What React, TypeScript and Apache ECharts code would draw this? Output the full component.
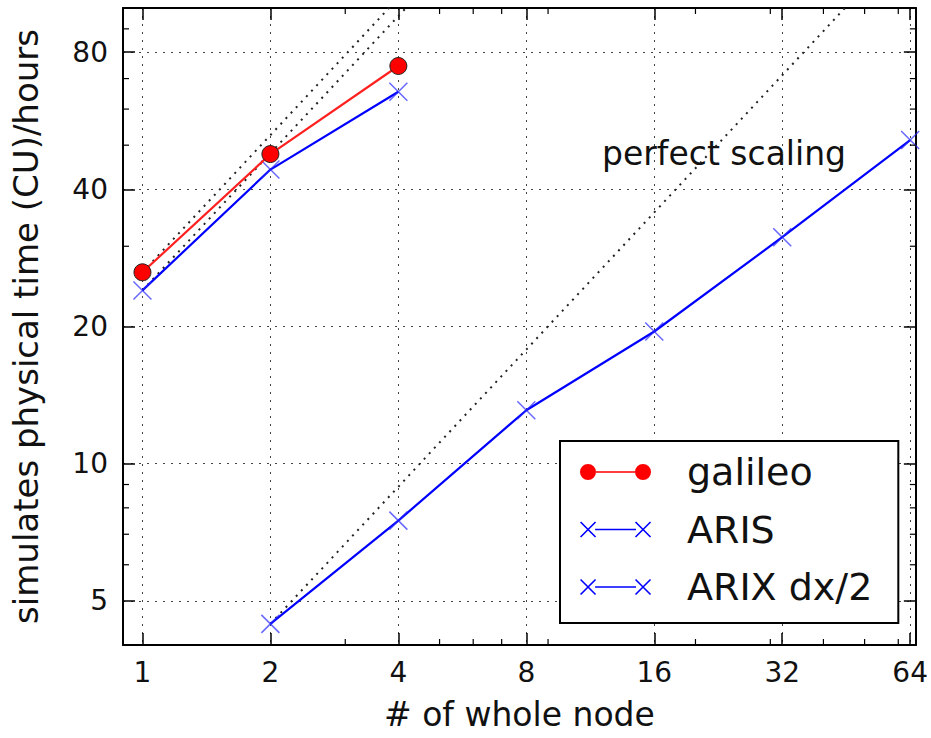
import React, { useEffect, useRef } from "react";
import * as echarts from "echarts";

// ---- data ----
const xTicks = [1, 2, 4, 8, 16, 32, 64];
const yTicks = [5, 10, 20, 40, 80];
const xMinorTicks = [3, 5, 6, 7, 9, 20, 30, 40, 50, 60];
const yMinorTicks = [6, 7, 8, 9, 30, 50, 60, 70, 90];

const galileoNodes = [1, 2, 4];
const galileoValues = [26.3, 47.8, 74.6];
const arisNodes = [1, 2, 4];
const arisValues = [24.0, 44.2, 65.5];
const arixNodes = [2, 4, 8, 16, 32, 64];
const arixValues = [4.45, 7.5, 13.1, 19.5, 31.4, 51.3];

const perfectGalileoNodes = [1, 2, 4];
const perfectGalileoValues = [26.3, 52.6, 105.2];
const perfectArisNodes = [1, 2, 4, 8];
const perfectArisValues = [24.0, 48.0, 96.0, 192.0];
const perfectArixNodes = [2, 4, 8, 16, 32, 64];
const perfectArixValues = [4.45, 8.9, 17.8, 35.6, 71.2, 142.4];

const seriesNames = ["galileo", "ARIS", "ARIX dx/2"];
const annotationText = "perfect scaling";
const xName = "# of whole node";
const yName = "simulates physical time (CU)/hours";

const FONT = "DejaVu Sans";

function pairs(xs: number[], ys: number[]) {
  return xs.map((x, i) => [x, ys[i]]);
}

function xPoly(cx: number, cy: number, h: number, w: number) {
  const o = w / Math.SQRT2;
  const p = (pts: number[][]) =>
    "M" + pts.map((q) => q[0].toFixed(2) + "," + q[1].toFixed(2)).join(" L") + " Z";
  const a = p([
    [cx - h + o, cy - h - o],
    [cx + h + o, cy + h - o],
    [cx + h - o, cy + h + o],
    [cx - h - o, cy - h + o],
  ]);
  const b = p([
    [cx - h - o, cy + h - o],
    [cx + h - o, cy - h - o],
    [cx + h + o, cy - h + o],
    [cx - h + o, cy + h + o],
  ]);
  return a + " " + b;
}

const ICON_W = 102;
const bboxFix = "M0,0 M" + ICON_W + ",18 ";
const circleIcon =
  "path://" +
  bboxFix +
  "M0,9 A8,8 0 1,1 16,9 A8,8 0 1,1 0,9 Z M55,9 A8,8 0 1,1 71,9 A8,8 0 1,1 55,9 Z M16,8.2 L55,8.2 L55,9.8 L16,9.8 Z";
const crossIcon =
  "path://" +
  bboxFix +
  xPoly(8, 9, 7.5, 0.8) +
  " " +
  xPoly(63, 9, 7.5, 0.8) +
  " M15,8.2 L56,8.2 L56,9.8 L15,9.8 Z";

const crossSymbol = "path://M0,0 L10,10 M10,0 L0,10";

export default function App() {
  const ref = useRef<HTMLDivElement>(null);
  useEffect(() => {
    if (!ref.current) return;
    const chart = echarts.init(ref.current, undefined, { renderer: "svg" });

    const gridDash = { type: [2, 6] as any, color: "#444", width: 1 };
    const perfectStyle = { type: [2, 5.5] as any, color: "#222", width: 2 };

    const baseX = {
      type: "log" as const,
      logBase: 2,
      min: 0.9,
      max: 66,
      axisLine: { onZero: false, lineStyle: { color: "#000", width: 2 } },
      axisTick: {
        inside: true,
        length: 12,
        customValues: xTicks,
        lineStyle: { color: "#000", width: 1.5 },
      },
    };
    const baseY = {
      type: "log" as const,
      logBase: 2,
      min: 4,
      max: 100,
      axisLine: { onZero: false, lineStyle: { color: "#000", width: 2 } },
      axisTick: {
        inside: true,
        length: 12,
        customValues: yTicks,
        lineStyle: { color: "#000", width: 1.5 },
      },
    };

    const minorLen = 6;

    const option: any = {
      animation: false,
      backgroundColor: "#fff",
      textStyle: { fontFamily: FONT },
      grid: { left: 123, top: 8, right: 14, bottom: 93, containLabel: false },
      xAxis: [
        {
          ...baseX,
          position: "bottom",
          axisLabel: {
            customValues: xTicks,
            fontSize: 28,
            color: "#111",
            margin: 13,
            fontFamily: FONT,
          },
          splitLine: { show: true, lineStyle: gridDash },
          name: xName,
          nameLocation: "middle",
          nameGap: 53,
          nameTextStyle: { fontSize: 33, color: "#111", fontFamily: FONT },
        },
        {
          ...baseX,
          position: "top",
          axisLabel: { show: false },
          splitLine: { show: false },
        },
      ],
      yAxis: [
        {
          ...baseY,
          position: "left",
          axisLabel: {
            customValues: yTicks,
            fontSize: 28,
            color: "#111",
            margin: 15,
            fontFamily: FONT,
          },
          splitLine: { show: true, lineStyle: gridDash },
          name: yName,
          nameLocation: "middle",
          nameGap: 80,
          nameRotate: 90,
          nameTextStyle: { fontSize: 34, color: "#111", fontFamily: FONT },
        },
        {
          ...baseY,
          position: "right",
          axisLabel: { show: false },
          splitLine: { show: false },
        },
      ],
      legend: {
        orient: "vertical",
        left: 560,
        top: 441,
        padding: [12, 26, 17, 20],
        itemGap: 19.5,
        itemWidth: ICON_W,
        itemHeight: 18,
        backgroundColor: "#fff",
        borderColor: "#000",
        borderWidth: 2,
        borderRadius: 0,
        textStyle: { fontSize: 38, color: "#111", fontFamily: FONT },
        data: [
          { name: seriesNames[0], icon: circleIcon, itemStyle: { color: "#ff0000", borderWidth: 0 } },
          { name: seriesNames[1], icon: crossIcon, itemStyle: { color: "#0000ff", borderWidth: 0 } },
          { name: seriesNames[2], icon: crossIcon, itemStyle: { color: "#0000ff", borderWidth: 0 } },
        ],
      },
      graphic: [
        {
          type: "text",
          left: 602,
          top: 137,
          style: {
            text: annotationText,
            font: `33px "${FONT}"`,
            fill: "#111",
          },
        },
      ],
      series: [
        {
          type: "line",
          name: "perfect-galileo",
          data: pairs(perfectGalileoNodes, perfectGalileoValues),
          symbol: "none",
          lineStyle: perfectStyle,
          silent: true,
          clip: true,
          z: 3,
        },
        {
          type: "line",
          name: "perfect-aris",
          data: pairs(perfectArisNodes, perfectArisValues),
          symbol: "none",
          lineStyle: perfectStyle,
          silent: true,
          clip: true,
          z: 3,
        },
        {
          type: "line",
          name: "perfect-arix",
          data: pairs(perfectArixNodes, perfectArixValues),
          symbol: "none",
          lineStyle: perfectStyle,
          silent: true,
          clip: true,
          z: 3,
        },
        {
          type: "line",
          name: seriesNames[1],
          data: pairs(arisNodes, arisValues),
          symbol: crossSymbol,
          symbolSize: 18,
          color: "#0000ff",
          lineStyle: { color: "#0000ff", width: 2.2 },
          itemStyle: { color: "#0000ff", borderColor: "rgba(40,40,255,0.7)", borderWidth: 1.5 },
          clip: false,
          z: 5,
        },
        {
          type: "line",
          name: seriesNames[2],
          data: pairs(arixNodes, arixValues),
          symbol: crossSymbol,
          symbolSize: 18,
          color: "#0000ff",
          lineStyle: { color: "#0000ff", width: 2.2 },
          itemStyle: { color: "#0000ff", borderColor: "rgba(40,40,255,0.7)", borderWidth: 1.5 },
          clip: false,
          z: 5,
        },
        {
          type: "line",
          name: seriesNames[0],
          data: pairs(galileoNodes, galileoValues),
          symbol: "circle",
          symbolSize: 17,
          color: "#ff0000",
          lineStyle: { color: "#ff2020", width: 2.2 },
          itemStyle: { color: "#ff0000", borderColor: "#222", borderWidth: 1 },
          clip: false,
          z: 6,
        },
        {
          type: "custom",
          name: "x-minor-ticks",
          silent: true,
          clip: false,
          z: 7,
          data: xMinorTicks.map((v) => [v, 10]),
          renderItem: (params: any, api: any) => {
            const p = api.coord([api.value(0), api.value(1)]);
            const cs = params.coordSys;
            const st = { stroke: "#000", lineWidth: 1.2 };
            return {
              type: "group",
              children: [
                { type: "line", shape: { x1: p[0], y1: cs.y + cs.height, x2: p[0], y2: cs.y + cs.height - minorLen }, style: st },
                { type: "line", shape: { x1: p[0], y1: cs.y, x2: p[0], y2: cs.y + minorLen }, style: st },
              ],
            };
          },
        },
        {
          type: "custom",
          name: "y-minor-ticks",
          silent: true,
          clip: false,
          z: 7,
          data: yMinorTicks.map((v) => [2, v]),
          renderItem: (params: any, api: any) => {
            const p = api.coord([api.value(0), api.value(1)]);
            const cs = params.coordSys;
            const st = { stroke: "#000", lineWidth: 1.2 };
            return {
              type: "group",
              children: [
                { type: "line", shape: { x1: cs.x, y1: p[1], x2: cs.x + minorLen, y2: p[1] }, style: st },
                { type: "line", shape: { x1: cs.x + cs.width, y1: p[1], x2: cs.x + cs.width - minorLen, y2: p[1] }, style: st },
              ],
            };
          },
        },
      ],
    };

    chart.setOption(option);
    return () => {
      chart.dispose();
    };
  }, []);

  return (
    <div
      ref={ref}
      style={{ position: "absolute", left: 0, top: 0, width: 931, height: 738, background: "#fff" }}
    />
  );
}
